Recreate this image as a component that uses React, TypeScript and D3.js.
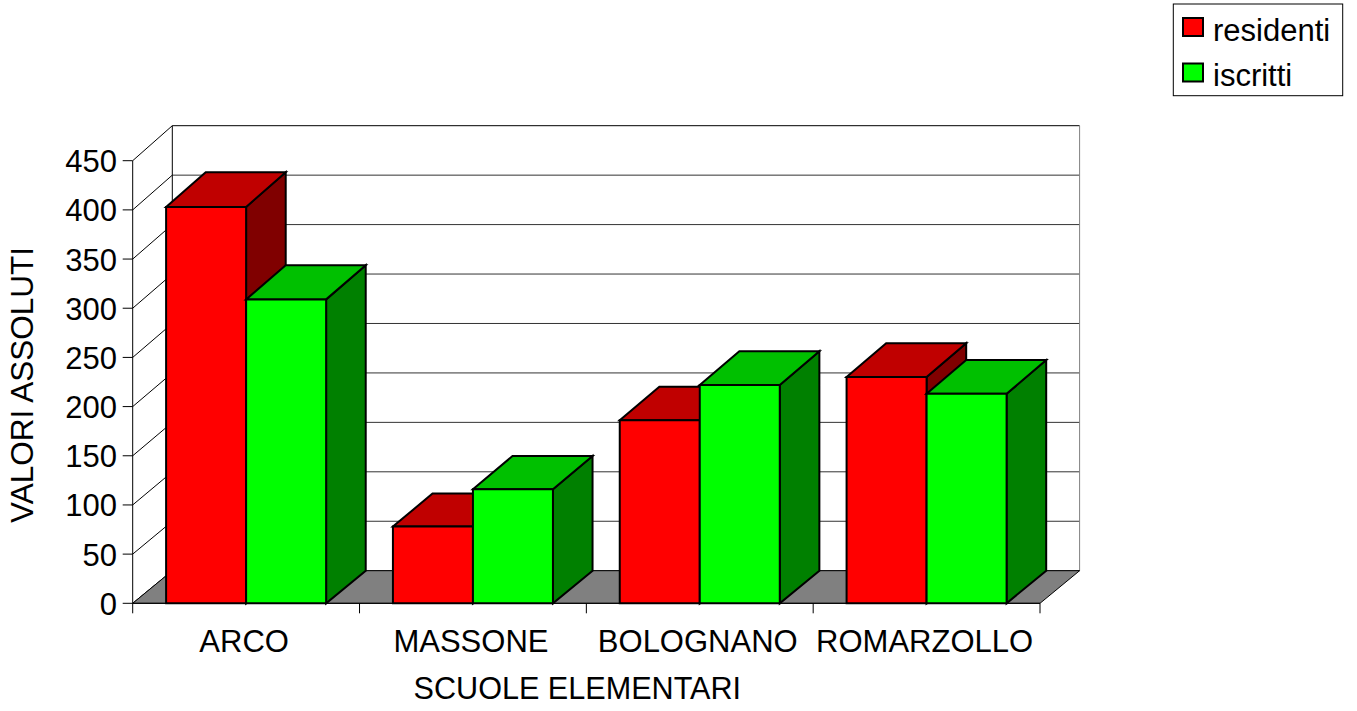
import React from "react";
import * as d3 from "d3";

const categories = ["ARCO", "MASSONE", "BOLOGNANO", "ROMARZOLLO"];
const seriesNames = ["residenti", "iscritti"];
const residenti = [403, 78, 186, 230];
const iscritti = [309, 116, 222, 213];
const yTicks = [0, 50, 100, 150, 200, 250, 300, 350, 400, 450];

const FONT = "'Liberation Sans', Arial, sans-serif";
const colors: Record<string, { front: string; top: string; side: string }> = {
  residenti: { front: "#FF0000", top: "#C00000", side: "#800000" },
  iscritti: { front: "#00FF00", top: "#00C000", side: "#008000" },
};

export default function App() {
  const W = 1357, H = 711;
  const X0 = 132.7, X1 = 1040;
  const DX = 39.6;
  const yF = d3.scaleLinear().domain([0, 450]).range([603.3, 160.7]);
  const yB = d3.scaleLinear().domain([0, 450]).range([570.7, 125.7]);
  const xCat = d3.scaleBand().domain(categories).range([X0, X1]).paddingInner(0).paddingOuter(0);
  const xSer = d3.scaleBand().domain(seriesNames).range([0, xCat.bandwidth()]).paddingInner(0).paddingOuter(0.4175);

  const proj = (x: number, v: number, d: number): [number, number] => [
    x + DX * d,
    yF(v) + d * (yB(v) - yF(v)),
  ];
  const poly = (pts: [number, number][]) => pts.map((p) => p.join(",")).join(" ");

  const values: Record<string, number[]> = { residenti, iscritti };

  const bars: JSX.Element[] = [];
  categories.forEach((c, ci) => {
    seriesNames.forEach((s) => {
      const v = values[s][ci];
      const x0 = (xCat(c) as number) + (xSer(s) as number);
      const x1 = x0 + xSer.bandwidth();
      const col = colors[s];
      const sw = { stroke: "#000", strokeWidth: 2, strokeLinejoin: "miter" as const };
      bars.push(
        <g key={c + s}>
          <polygon
            points={poly([proj(x1, 0, 0), proj(x1, v, 0), proj(x1, v, 1), proj(x1, 0, 1)])}
            fill={col.side}
            {...sw}
          />
          <polygon
            points={poly([proj(x0, v, 0), proj(x1, v, 0), proj(x1, v, 1), proj(x0, v, 1)])}
            fill={col.top}
            {...sw}
          />
          <polygon
            points={poly([proj(x0, 0, 0), proj(x1, 0, 0), proj(x1, v, 0), proj(x0, v, 0)])}
            fill={col.front}
            {...sw}
          />
        </g>
      );
    });
  });

  const catTicks = [...categories.map((c) => xCat(c) as number), X1];

  return (
    <svg width={W} height={H} style={{ position: "absolute", left: 0, top: 0, background: "#fff" }}>
      {/* back wall gridlines */}
      {yTicks.map((t) => (
        <line key={"g" + t} x1={X0 + DX} x2={X1 + DX} y1={yB(t)} y2={yB(t)} stroke={t === 450 ? "#000" : "#333"} strokeWidth={1} />
      ))}
      {/* left wall diagonals */}
      {yTicks.map((t) => (
        <line key={"d" + t} x1={X0} y1={yF(t)} x2={X0 + DX} y2={yB(t)} stroke="#000" strokeWidth={1} />
      ))}
      {/* back wall edges */}
      <line x1={X0 + DX} x2={X0 + DX} y1={yB(450)} y2={yB(0)} stroke="#000" strokeWidth={1} />
      <line x1={X1 + DX} x2={X1 + DX} y1={yB(450)} y2={yB(0)} stroke="#808080" strokeWidth={1} />
      {/* floor */}
      <polygon
        points={poly([proj(X0, 0, 0), proj(X1, 0, 0), proj(X1, 0, 1), proj(X0, 0, 1)])}
        fill="#808080"
        stroke="#000"
        strokeWidth={1}
      />
      {/* front value axis */}
      <line x1={X0} x2={X0} y1={yF(450)} y2={yF(0)} stroke="#000" strokeWidth={1} />
      {yTicks.map((t) => (
        <g key={"t" + t}>
          <line x1={X0 - 10} x2={X0} y1={yF(t)} y2={yF(t)} stroke="#000" strokeWidth={1} />
          <text x={117} y={yF(t) + 11.5} textAnchor="end" fontFamily={FONT} fontSize={31} fill="#000">
            {t}
          </text>
        </g>
      ))}
      {/* category axis */}
      <line x1={X0} x2={X1} y1={yF(0)} y2={yF(0)} stroke="#000" strokeWidth={1} />
      {catTicks.map((x, i) => (
        <line key={"ct" + i} x1={x} x2={x} y1={yF(0)} y2={yF(0) + 10} stroke="#000" strokeWidth={1} />
      ))}
      {bars}
      {categories.map((c) => (
        <text
          key={"cl" + c}
          x={(xCat(c) as number) + xCat.bandwidth() / 2 - 2}
          y={651.5}
          textAnchor="middle"
          fontFamily={FONT}
          fontSize={31}
          fill="#000"
        >
          {c}
        </text>
      ))}
      <text x={(X0 + X1) / 2 - 9} y={698.5} textAnchor="middle" fontFamily={FONT} fontSize={30.6} fill="#000">
        SCUOLE ELEMENTARI
      </text>
      <text
        transform={`translate(33.3, 385) rotate(-90)`}
        textAnchor="middle"
        fontFamily={FONT}
        fontSize={31.5}
        fill="#000"
      >
        VALORI ASSOLUTI
      </text>
      {/* legend */}
      <rect x={1173.3} y={4} width={169.4} height={91.7} fill="#fff" stroke="#000" strokeWidth={1} />
      {seriesNames.map((s, i) => (
        <g key={"lg" + s}>
          <rect x={1183} y={18 + i * 45.5} width={20} height={18} fill={colors[s].front} stroke="#000" strokeWidth={2} />
          <text x={1213} y={40.5 + i * 45.5} fontFamily={FONT} fontSize={31} fill="#000">
            {s}
          </text>
        </g>
      ))}
    </svg>
  );
}
